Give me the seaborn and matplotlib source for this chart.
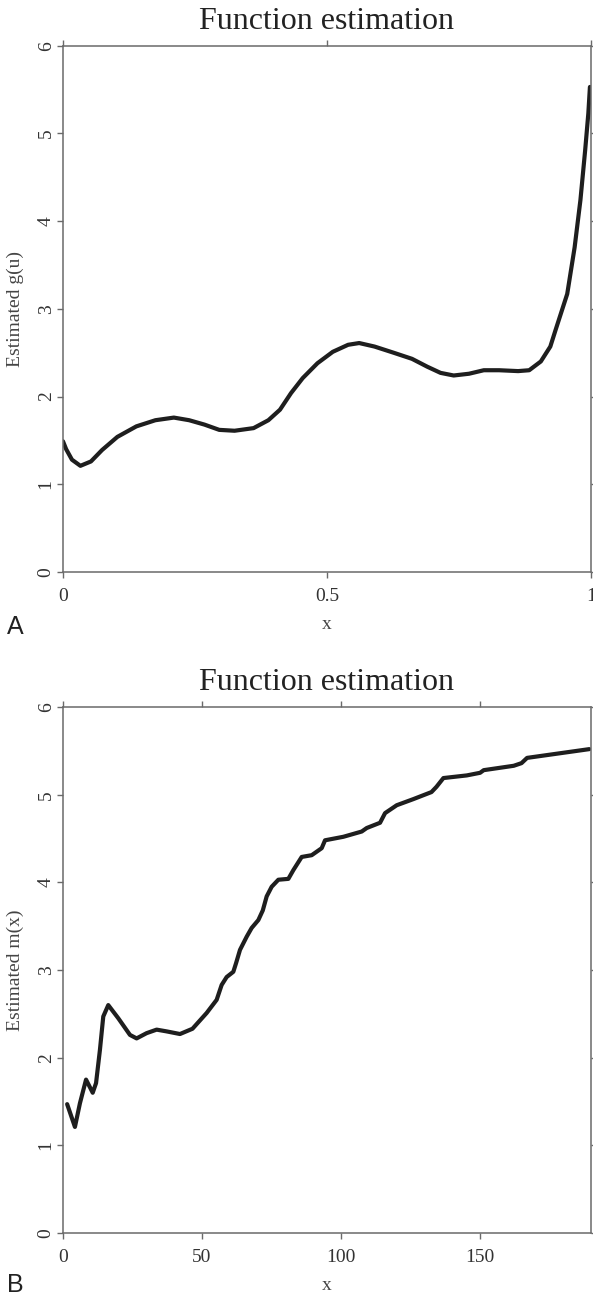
import numpy as np
import pandas as pd
import matplotlib
matplotlib.use("Agg")
import matplotlib.pyplot as plt
import seaborn as sns

# panel A: estimated g(u)
ga_x = [0.0, 0.006, 0.017, 0.033, 0.053, 0.074, 0.103, 0.139, 0.175, 0.21, 0.239, 0.268, 0.296,
        0.325, 0.361, 0.389, 0.411, 0.432, 0.454, 0.482, 0.511, 0.54, 0.561, 0.59, 0.626,
        0.661, 0.69, 0.715, 0.74, 0.769, 0.797, 0.826, 0.862, 0.883, 0.905, 0.923, 0.933,
        0.955, 0.969, 0.98, 0.989, 0.995, 0.998]
ga_y = [1.49, 1.40, 1.28, 1.21, 1.26, 1.39, 1.54, 1.66, 1.73, 1.76, 1.73, 1.68, 1.62,
        1.61, 1.64, 1.73, 1.85, 2.04, 2.21, 2.38, 2.51, 2.59, 2.61, 2.57, 2.50,
        2.43, 2.34, 2.27, 2.24, 2.26, 2.30, 2.30, 2.29, 2.30, 2.40, 2.57, 2.76,
        3.17, 3.70, 4.24, 4.81, 5.23, 5.53]

# panel B: estimated m(x)
mb_x = [1.5, 4.3, 6.1, 8.3, 10.7, 11.9, 13.3, 14.5, 16.3, 19.9, 24.1, 26.5, 30.1, 33.7,
        37.3, 42.1, 46.6, 51.7, 55.3, 57.1, 58.9, 61.3, 62.3, 63.7, 66.1, 67.9, 70.3,
        71.9, 73.3, 75.1, 77.5, 81.1, 82.9, 85.9, 89.5, 93.1, 94.3, 100.9, 107.5,
        109.3, 114.1, 115.9, 120.1, 126.1, 132.6, 134.4, 136.9, 145.3, 150.1, 151.4,
        162.2, 165.0, 167.0, 189.4]
mb_y = [1.47, 1.21, 1.48, 1.75, 1.60, 1.71, 2.09, 2.47, 2.60, 2.45, 2.26, 2.22, 2.28, 2.32,
        2.30, 2.27, 2.33, 2.51, 2.66, 2.83, 2.92, 2.98, 3.08, 3.23, 3.38, 3.48, 3.57,
        3.68, 3.84, 3.95, 4.03, 4.04, 4.14, 4.29, 4.31, 4.39, 4.48, 4.52, 4.58,
        4.62, 4.68, 4.79, 4.88, 4.95, 5.03, 5.09, 5.19, 5.22, 5.25, 5.28,
        5.33, 5.36, 5.42, 5.52]

sns.set_style("ticks")
plt.rcParams['font.family'] = ['Liberation Serif', 'DejaVu Serif']
spine_col = '#6a6a6a'

fig = plt.figure(figsize=(5.93, 12.99), dpi=100)
ax_a = fig.add_axes([0.1062, 0.5597, 0.8904, 0.4051])
ax_b = fig.add_axes([0.1062, 0.0508, 0.8904, 0.4049])


def style_axis(ax, xlim, xticks, xticklabels, ylabel):
    ax.set_xlim(*xlim)
    ax.set_ylim(0, 6)
    ax.set_xticks(xticks)
    ax.set_xticklabels(xticklabels)
    ax.set_yticks(range(7))
    ax.set_yticklabels([str(v) for v in range(7)], rotation=90, va='center')
    ax.tick_params(axis='both', which='both', direction='out', length=4.5, width=1,
                   color=spine_col, labelcolor='#333333', labelsize=14,
                   top=True, right=True, labeltop=False, labelright=False)
    ax.tick_params(axis='x', pad=7)
    ax.tick_params(axis='y', pad=1.5)
    for s in ax.spines.values():
        s.set_visible(True)
        s.set_color(spine_col)
        s.set_linewidth(1.1)
    ax.set_title('Function estimation', fontsize=23, color='#222222', pad=12)
    ax.set_xlabel('x', fontsize=14, color='#444444', labelpad=8)
    ax.set_ylabel(ylabel, fontsize=14, color='#444444', labelpad=10)


df_a = pd.DataFrame({'x': ga_x, 'g': ga_y})
sns.lineplot(data=df_a, x='x', y='g', ax=ax_a, color='#1e1e1e', linewidth=3, sort=False)
style_axis(ax_a, (0, 1), [0, 0.5, 1], ['0', '0.5', '1'], 'Estimated g(u)')

df_b = pd.DataFrame({'x': mb_x, 'm': mb_y})
sns.lineplot(data=df_b, x='x', y='m', ax=ax_b, color='#1e1e1e', linewidth=3, sort=False)
style_axis(ax_b, (0, 190), [0, 50, 100, 150], ['0', '50', '100', '150'], 'Estimated m(x)')

fig.text(0.025, 1 - 627 / 1299, 'A', fontsize=18, family=['Liberation Sans'],
         ha='center', va='center', color='#222222')
fig.text(0.025, 1 - 1285 / 1299, 'B', fontsize=18, family=['Liberation Sans'],
         ha='center', va='center', color='#222222')

fig.savefig('out.png', dpi=100)
